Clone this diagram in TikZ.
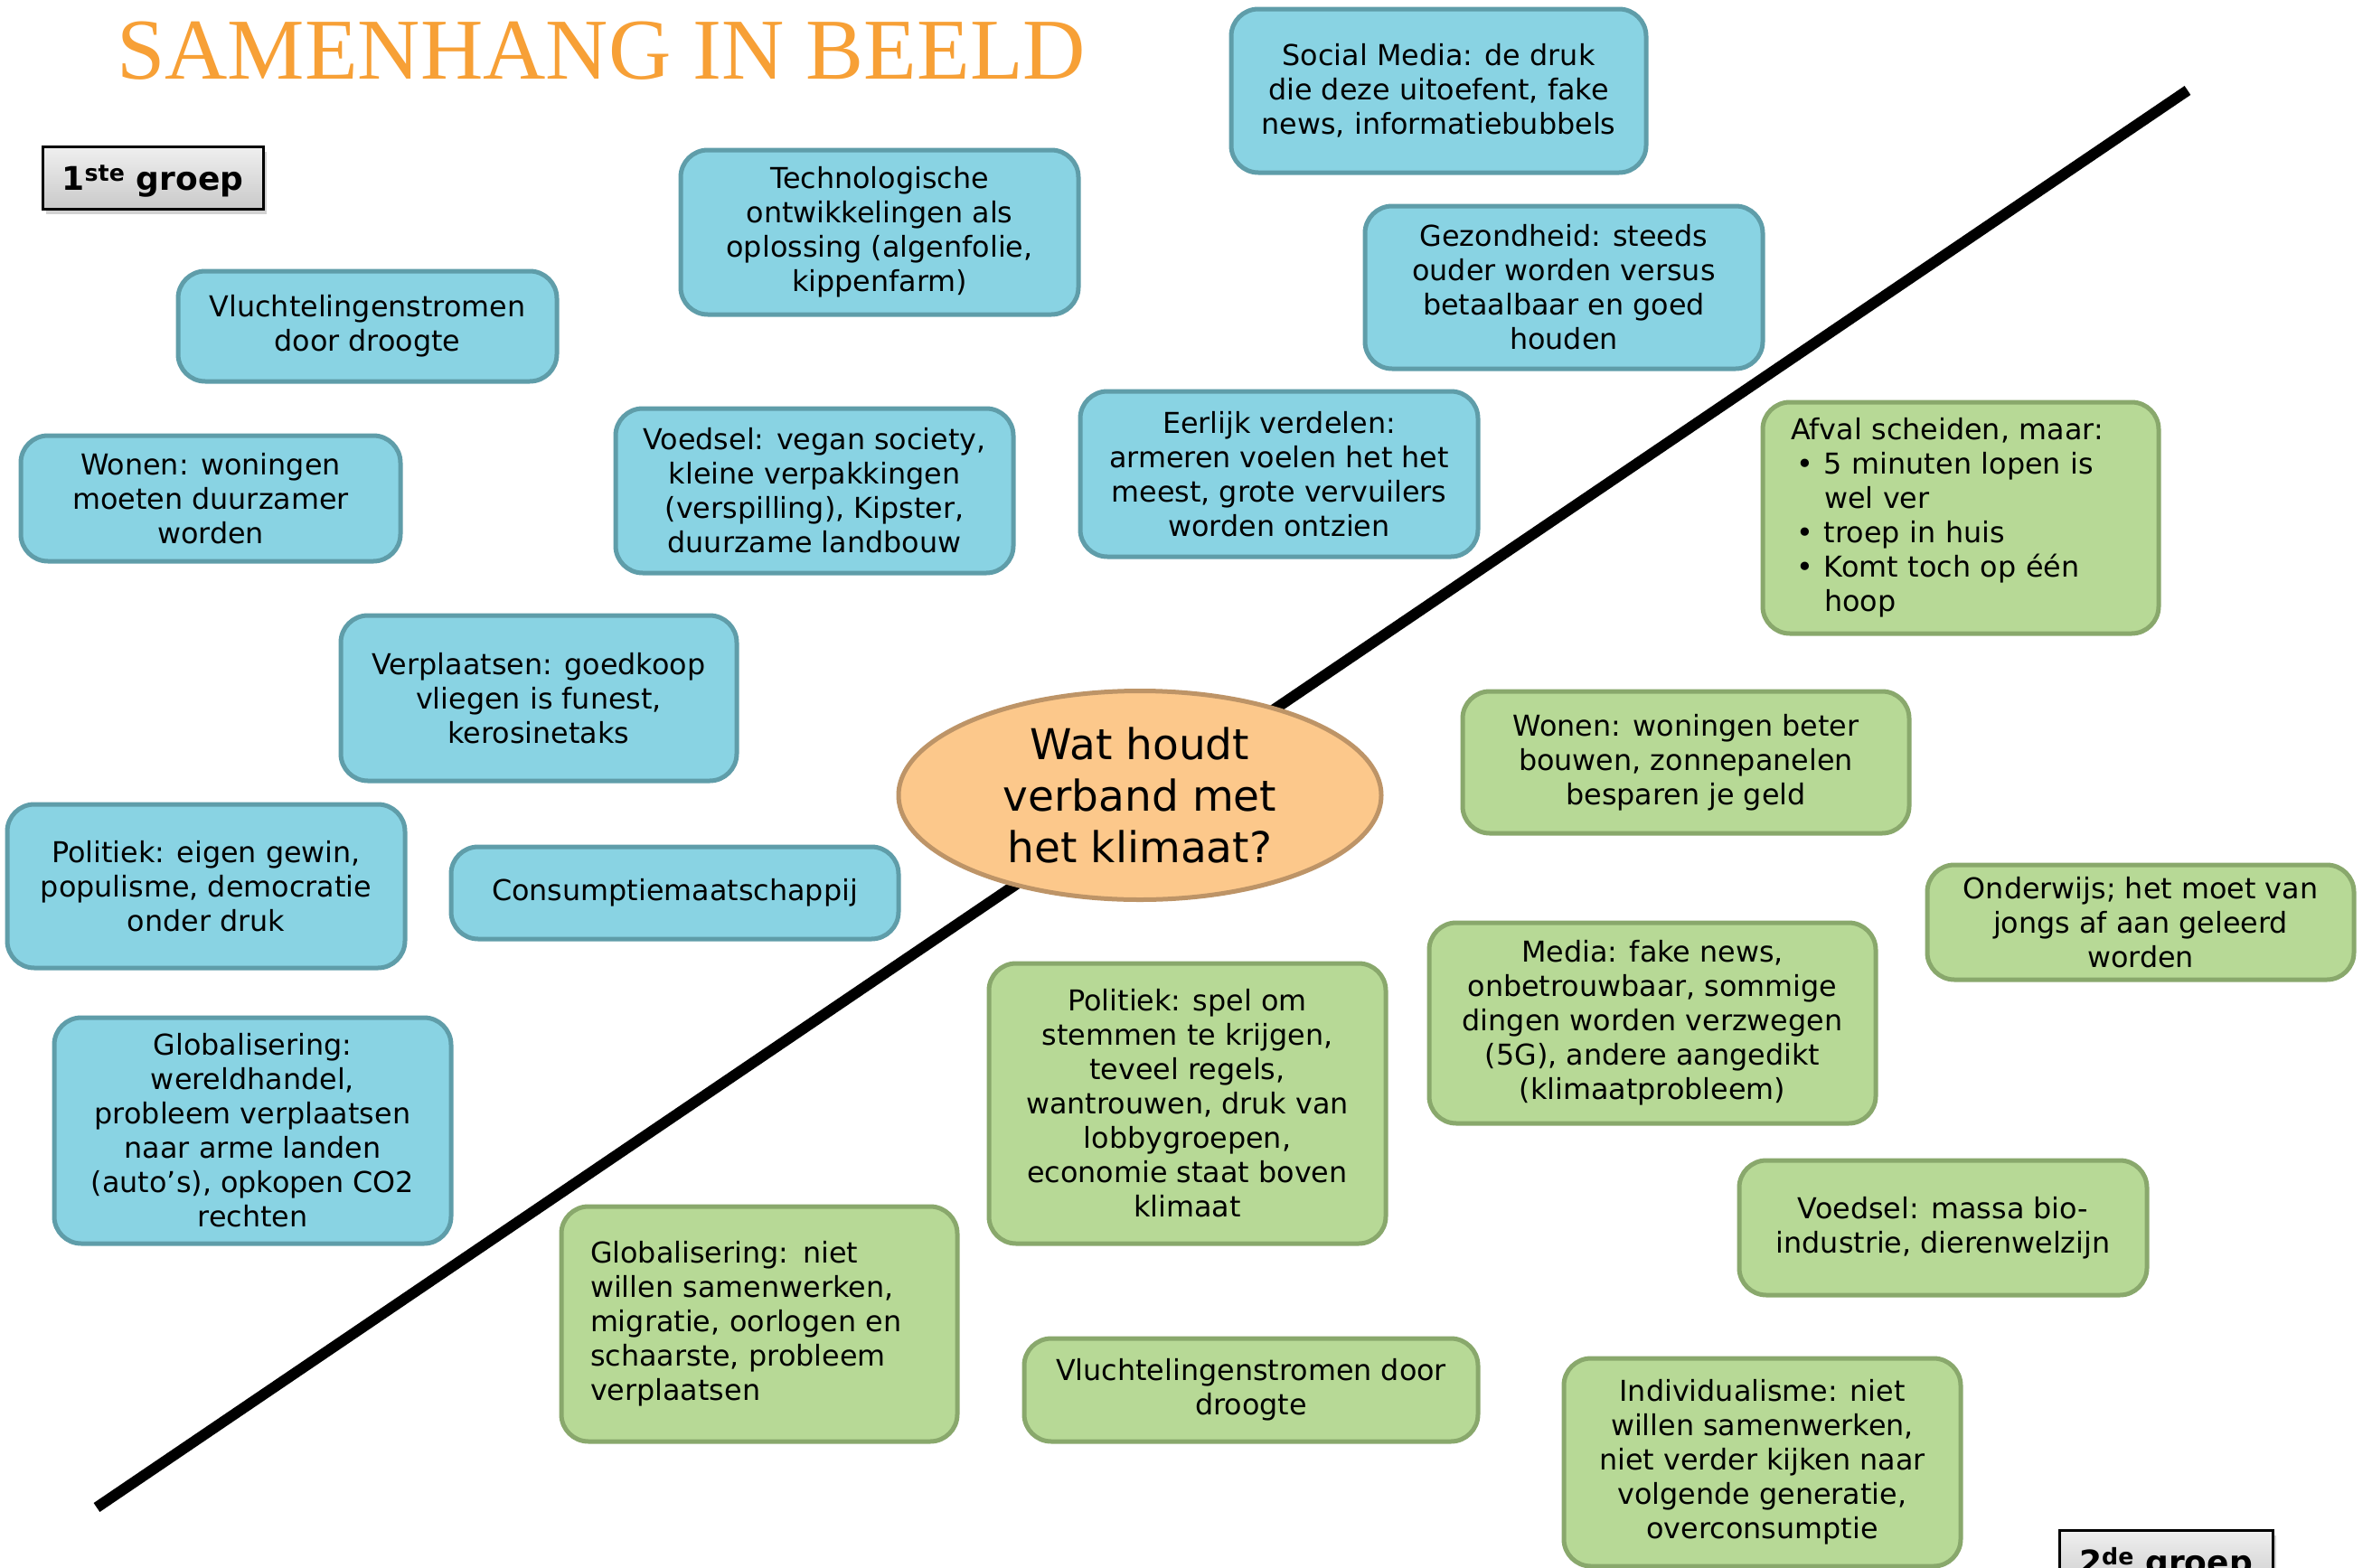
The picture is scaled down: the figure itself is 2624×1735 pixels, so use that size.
\documentclass[tikz,border=0pt]{standalone}
\usepackage{fontspec}
\setmainfont{DejaVu Sans}
\newfontfamily\titlefont{Liberation Serif}
\usetikzlibrary{shapes.geometric,shadows}
\definecolor{bluefill}{HTML}{89D3E3}
\definecolor{blueline}{HTML}{5F9DA9}
\definecolor{greenfill}{HTML}{B7D996}
\definecolor{greenline}{HTML}{89A86C}
\definecolor{ovalfill}{HTML}{FCC88B}
\definecolor{ovalline}{HTML}{BD9467}
\definecolor{titleorange}{HTML}{F7A036}
\tikzset{
  card/.style={rectangle, rounded corners=30pt, line width=5pt, inner sep=0pt,
    font=\fontsize{31.8}{38}\selectfont, align=center},
  bluecard/.style={card, fill=bluefill, draw=blueline},
  gcard/.style={card, fill=greenfill, draw=greenline},
  oval/.style={ellipse, fill=ovalfill, draw=ovalline, line width=5pt, inner sep=0pt,
    font=\fontsize{47}{57}\selectfont, align=center},
  grouplabel/.style={rectangle, draw=black, line width=3pt, top color=gray!12, bottom color=gray!42,
    drop shadow={shadow xshift=4pt, shadow yshift=-6pt, opacity=0.35},
    font=\fontsize{36}{42}\selectfont\bfseries, inner sep=0pt, text height=27pt, text depth=0pt},
  divline/.style={line width=12pt, black},
}
\newcommand{\bul}{\hspace*{6pt}\makebox[31pt][l]{•}}
\newcommand{\ind}{\hspace*{37pt}}
\begin{document}
\begin{tikzpicture}[x=1pt,y=-1pt]
\clip (0,0) rectangle (2624,1735);
\fill[white] (0,0) rectangle (2624,1735);
% dividing line
\coordinate (l1) at (107,1668);
\coordinate (l2) at (2420,100);
\draw[divline] (l1) -- (l2);
% title
\node[anchor=base west, inner sep=0pt, text=titleorange, font=\titlefont\fontsize{96}{110}\selectfont] (title) at (129,87) {SAMENHANG IN BEELD};
% group labels
\node[grouplabel, minimum width=244pt, minimum height=69pt] (g1) at (169,196.5) {1\textsuperscript{ste} groep};
\node[grouplabel, minimum width=236pt, minimum height=69pt] (g2) at (2396,1727.5) {2\textsuperscript{de} groep};
% blue cards
\node[bluecard, minimum width=440pt, minimum height=182pt] (tech) at (973,257) {Technologische\\ontwikkelingen als\\oplossing (algenfolie,\\kippenfarm)};
\node[bluecard, minimum width=459pt, minimum height=181pt] (social) at (1591.5,100.5) {Social Media: de druk\\die deze uitoefent, fake\\news, informatiebubbels};
\node[bluecard, minimum width=440pt, minimum height=180pt] (gezond) at (1730,318) {Gezondheid: steeds\\ouder worden versus\\betaalbaar en goed\\houden};
\node[bluecard, minimum width=419pt, minimum height=122pt] (vlucht1) at (406.5,361) {Vluchtelingenstromen\\door droogte};
\node[bluecard, minimum width=420pt, minimum height=139pt] (wonen1) at (233,551.5) {Wonen: woningen\\moeten duurzamer\\worden};
\node[bluecard, minimum width=440pt, minimum height=182pt] (voedsel1) at (901,543) {Voedsel: vegan society,\\kleine verpakkingen\\(verspilling), Kipster,\\duurzame landbouw};
\node[bluecard, minimum width=440pt, minimum height=183pt] (eerlijk) at (1415,524.5) {Eerlijk verdelen:\\armeren voelen het het\\meest, grote vervuilers\\worden ontzien};
\node[bluecard, minimum width=438pt, minimum height=183pt] (verpl) at (596,772.5) {Verplaatsen: goedkoop\\vliegen is funest,\\kerosinetaks};
\node[bluecard, minimum width=440pt, minimum height=181pt] (pol1) at (228,980.5) {Politiek: eigen gewin,\\populisme, democratie\\onder druk};
\node[bluecard, minimum width=495pt, minimum height=102pt] (consum) at (746.5,988) {Consumptiemaatschappij};
\node[bluecard, minimum width=439pt, minimum height=250pt] (glob1) at (279.5,1251) {Globalisering:\\wereldhandel,\\probleem verplaatsen\\naar arme landen\\(auto’s), opkopen CO2\\rechten};
% central question
\node[oval, minimum width=534pt, minimum height=231pt] (vraag) at (1261,880) {Wat houdt\\verband met\\het klimaat?};
% green cards
\node[gcard, minimum width=438pt, minimum height=256pt, align=left, text width=376pt] (afval) at (2169,573) {Afval scheiden, maar:\\\bul 5 minuten lopen is\\\ind wel ver\\\bul troep in huis\\\bul Komt toch op één\\\ind hoop};
\node[gcard, minimum width=494pt, minimum height=157pt] (wonen2) at (1865,843.5) {Wonen: woningen beter\\bouwen, zonnepanelen\\besparen je geld};
\node[gcard, minimum width=472pt, minimum height=127pt] (onderw) at (2368,1020.5) {Onderwijs; het moet van\\jongs af aan geleerd\\worden};
\node[gcard, minimum width=494pt, minimum height=222pt] (media) at (1828,1132) {Media: fake news,\\onbetrouwbaar, sommige\\dingen worden verzwegen\\(5G), andere aangedikt\\(klimaatprobleem)};
\node[gcard, minimum width=439pt, minimum height=310pt] (pol2) at (1313.5,1221) {Politiek: spel om\\stemmen te krijgen,\\teveel regels,\\wantrouwen, druk van\\lobbygroepen,\\economie staat boven\\klimaat};
\node[gcard, minimum width=451pt, minimum height=149pt] (voedsel2) at (2149.5,1358.5) {Voedsel: massa bio-\\industrie, dierenwelzijn};
\node[gcard, minimum width=438pt, minimum height=260pt, align=left, text width=374pt] (glob2) at (840,1465) {Globalisering: niet\\willen samenwerken,\\migratie, oorlogen en\\schaarste, probleem\\verplaatsen};
\node[gcard, minimum width=502pt, minimum height=114pt] (vlucht2) at (1384,1538) {Vluchtelingenstromen door\\droogte};
\node[gcard, minimum width=439pt, minimum height=230pt] (indiv) at (1949.5,1618) {Individualisme: niet\\willen samenwerken,\\niet verder kijken naar\\volgende generatie,\\overconsumptie};
\end{tikzpicture}
\end{document}
